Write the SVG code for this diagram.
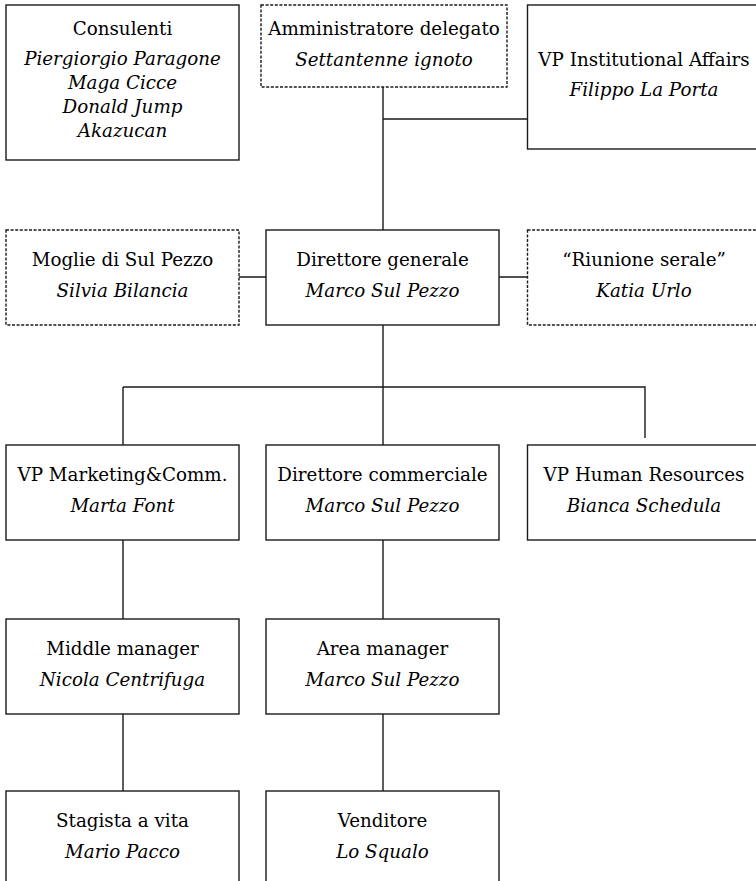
<svg xmlns="http://www.w3.org/2000/svg" width="756" height="881" viewBox="0 0 756 881">
<style>
.box{fill:#fff;stroke:#1a1a1a;stroke-width:1.4}
.dash{fill:#fff;stroke:#1a1a1a;stroke-width:1.4;stroke-dasharray:3 1.6}
.t{font-family:"DejaVu Serif","Liberation Serif",serif;font-size:18.3px;fill:#000;text-anchor:middle}
.n{font-family:"DejaVu Serif","Liberation Serif",serif;font-size:18.3px;font-style:italic;fill:#000;text-anchor:middle}
.c{fill:none;stroke:#1a1a1a;stroke-width:1.4}
</style>
<rect width="756" height="881" fill="#fff"/>
<g id="connectors">
<path class="c" d="M383 87V230M383 119H528M239 277H266M499 277H527M383 325V445M123 387H645V438M123 387V445M123 540V619M383 540V619M123 714V791M383 714V791"/>
</g>
<g id="consulenti">
<rect class="box" x="6" y="5" width="233" height="155"/>
<text class="t" x="122.5" y="35">Consulenti</text>
<text class="n" x="122.5" y="65">Piergiorgio Paragone</text>
<text class="n" x="122.5" y="89">Maga Cicce</text>
<text class="n" x="122.5" y="113">Donald Jump</text>
<text class="n" x="122.5" y="137">Akazucan</text>
</g>
<g id="amministratore">
<rect class="dash" x="261" y="5" width="246" height="82"/>
<text class="t" x="384" y="34.5">Amministratore delegato</text>
<text class="n" x="384" y="65.5">Settantenne ignoto</text>
</g>
<g id="vp-institutional">
<rect class="box" x="527.5" y="5" width="233" height="144"/>
<text class="t" x="644" y="65.5">VP Institutional Affairs</text>
<text class="n" x="644" y="96">Filippo La Porta</text>
</g>
<g id="moglie">
<rect class="dash" x="6" y="230" width="233" height="95"/>
<text class="t" x="122.5" y="266">Moglie di Sul Pezzo</text>
<text class="n" x="122.5" y="297">Silvia Bilancia</text>
</g>
<g id="direttore-generale">
<rect class="box" x="266" y="230" width="233" height="95"/>
<text class="t" x="382.5" y="266">Direttore generale</text>
<text class="n" x="382.5" y="297">Marco Sul Pezzo</text>
</g>
<g id="riunione">
<rect class="dash" x="527.5" y="230" width="233" height="95"/>
<text class="t" x="644" y="266">“Riunione serale”</text>
<text class="n" x="644" y="297">Katia Urlo</text>
</g>
<g id="vp-marketing">
<rect class="box" x="6" y="445" width="233" height="95"/>
<text class="t" x="122.5" y="481">VP Marketing&amp;Comm.</text>
<text class="n" x="122.5" y="512">Marta Font</text>
</g>
<g id="direttore-commerciale">
<rect class="box" x="266" y="445" width="233" height="95"/>
<text class="t" x="382.5" y="481">Direttore commerciale</text>
<text class="n" x="382.5" y="512">Marco Sul Pezzo</text>
</g>
<g id="vp-hr">
<rect class="box" x="527.5" y="445" width="233" height="95"/>
<text class="t" x="644" y="481">VP Human Resources</text>
<text class="n" x="644" y="512">Bianca Schedula</text>
</g>
<g id="middle-manager">
<rect class="box" x="6" y="619" width="233" height="95"/>
<text class="t" x="122.5" y="655">Middle manager</text>
<text class="n" x="122.5" y="686">Nicola Centrifuga</text>
</g>
<g id="area-manager">
<rect class="box" x="266" y="619" width="233" height="95"/>
<text class="t" x="382.5" y="655">Area manager</text>
<text class="n" x="382.5" y="686">Marco Sul Pezzo</text>
</g>
<g id="stagista">
<rect class="box" x="6" y="791" width="233" height="95"/>
<text class="t" x="122.5" y="827">Stagista a vita</text>
<text class="n" x="122.5" y="858">Mario Pacco</text>
</g>
<g id="venditore">
<rect class="box" x="266" y="791" width="233" height="95"/>
<text class="t" x="382.5" y="827">Venditore</text>
<text class="n" x="382.5" y="858">Lo Squalo</text>
</g>
</svg>
